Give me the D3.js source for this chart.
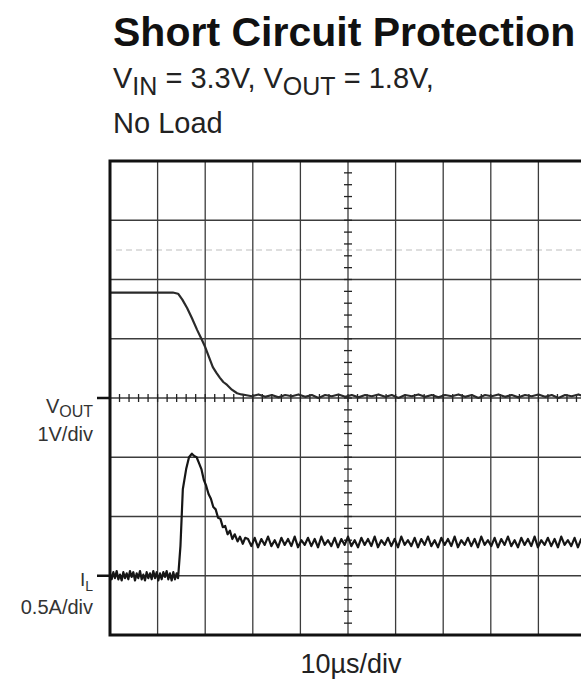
<!DOCTYPE html>
<html>
<head>
<meta charset="utf-8">
<script src="https://cdn.jsdelivr.net/npm/d3@7"></script>
<style>
  html, body { margin: 0; padding: 0; background: #fff; }
  svg { display: block; font-family: "Liberation Sans", Arial, Helvetica, sans-serif; }
</style>
</head>
<body>
<div id="container"></div>
<script>
// scope settings: 10 time divisions, 8 vertical divisions
const timeDivs = [0, 10, 20, 30, 40, 50, 60, 70, 80, 90, 100];   // µs
const voltDivs = [-4, -3, -2, -1, 0, 1, 2, 3, 4];                 // V (1V/div)
const ampRange = [-0.5, 3.5];                                     // A (0.5A/div)

// V_OUT trace [µs, V]
const voutTrace = [
  [0, 1.78], [13.2, 1.78], [14.3, 1.76], [15.2, 1.66], [16.2, 1.52], [17.2, 1.35],
  [18.3, 1.15], [19.2, 1.0], [20.0, 0.86], [20.8, 0.69], [21.6, 0.52], [22.4, 0.42],
  [23.1, 0.34], [23.8, 0.27], [24.6, 0.22], [25.6, 0.14], [26.7, 0.08], [27.6, 0.06],
  [28.4, 0.05], [29.8, 0.03], [31.2, 0.06], [32.6, 0.02], [34.0, 0.05], [35.4, 0.01],
  [36.8, 0.05], [38.2, 0.03], [39.6, 0.06], [41.0, 0.02], [42.4, 0.05], [43.8, 0.00],
  [45.2, 0.05], [46.6, 0.03], [48.0, 0.06], [49.4, 0.02], [50.8, 0.05], [52.2, 0.01],
  [53.6, 0.05], [55.0, 0.03], [56.4, 0.06], [57.8, 0.02], [59.2, 0.05], [60.6, 0.00],
  [62.0, 0.05], [63.4, 0.03], [64.8, 0.06], [66.2, 0.02], [67.6, 0.05], [69.0, 0.01],
  [70.4, 0.05], [71.8, 0.03], [73.2, 0.06], [74.6, 0.02], [76.0, 0.05], [77.4, 0.00],
  [78.8, 0.05], [80.2, 0.03], [81.6, 0.06], [83.0, 0.02], [84.4, 0.05], [85.8, 0.01],
  [87.2, 0.05], [88.6, 0.03], [90.0, 0.06], [91.4, 0.02], [92.8, 0.05], [94.2, 0.00],
  [95.6, 0.05], [97.0, 0.03], [98.4, 0.06], [99.8, 0.02]
];

// inductor current before the short [µs, A]
const ilBefore = [
  [0, 0.02], [0.35, -0.03], [0.7, 0.03], [1.05, -0.02], [1.4, 0.04], [1.75, -0.03],
  [2.1, 0.01], [2.45, -0.04], [2.8, 0.03], [3.15, -0.02], [3.5, 0.02], [3.85, -0.03],
  [4.2, 0.04], [4.55, -0.01], [4.9, 0.03], [5.25, -0.04], [5.6, 0.02], [5.95, -0.02],
  [6.3, 0.04], [6.65, -0.03], [7.0, 0.01], [7.35, -0.04], [7.7, 0.03], [8.05, -0.02],
  [8.4, 0.02], [8.75, -0.03], [9.1, 0.04], [9.45, -0.02], [9.8, 0.03], [10.15, -0.04],
  [10.5, 0.02], [10.85, -0.03], [11.2, 0.03], [11.55, -0.01], [11.9, 0.04], [12.25, -0.03],
  [12.6, 0.02], [12.95, -0.04], [13.3, 0.03], [13.65, -0.03], [14.0, 0.02], [14.3, -0.02]
];

// current spike when the output is shorted [µs, A]
const ilSpike = [
  [14.8, 0.25], [15.3, 0.73], [16.0, 0.9], [16.6, 1.0], [17.2, 1.03], [17.7, 1.01],
  [18.2, 1.0], [18.7, 0.95], [19.2, 0.9], [19.7, 0.81], [20.2, 0.76], [20.7, 0.69],
  [21.2, 0.65], [21.7, 0.58], [22.2, 0.56], [22.7, 0.49], [23.2, 0.48], [23.7, 0.41],
  [24.2, 0.42], [24.7, 0.35], [25.2, 0.38], [25.7, 0.31], [26.2, 0.35], [26.8, 0.29],
  [27.3, 0.33], [27.9, 0.27], [28.4, 0.32]
];

// current limit ripple [µs, A]
const ilLimit = [
  [29.0, 0.31], [29.7, 0.25], [30.4, 0.32], [31.1, 0.24], [31.8, 0.31], [32.5, 0.26],
  [33.2, 0.33], [33.9, 0.25], [34.6, 0.30], [35.3, 0.24], [36.0, 0.32], [36.7, 0.26],
  [37.4, 0.31], [38.1, 0.25], [38.8, 0.33], [39.5, 0.24], [40.2, 0.30], [40.9, 0.26],
  [41.6, 0.32], [42.3, 0.25], [43.0, 0.31], [43.7, 0.24], [44.4, 0.33], [45.1, 0.26],
  [45.8, 0.30], [46.5, 0.25], [47.2, 0.32], [47.9, 0.24], [48.6, 0.31], [49.3, 0.26],
  [50.0, 0.33], [50.7, 0.25], [51.4, 0.30], [52.1, 0.24], [52.8, 0.32], [53.5, 0.26],
  [54.2, 0.31], [54.9, 0.25], [55.6, 0.33], [56.3, 0.24], [57.0, 0.30], [57.7, 0.26],
  [58.4, 0.32], [59.1, 0.25], [59.8, 0.31], [60.5, 0.24], [61.2, 0.33], [61.9, 0.26],
  [62.6, 0.30], [63.3, 0.25], [64.0, 0.32], [64.7, 0.24], [65.4, 0.31], [66.1, 0.26],
  [66.8, 0.33], [67.5, 0.25], [68.2, 0.30], [68.9, 0.24], [69.6, 0.32], [70.3, 0.26],
  [71.0, 0.31], [71.7, 0.25], [72.4, 0.33], [73.1, 0.24], [73.8, 0.30], [74.5, 0.26],
  [75.2, 0.32], [75.9, 0.25], [76.6, 0.31], [77.3, 0.24], [78.0, 0.33], [78.7, 0.26],
  [79.4, 0.30], [80.1, 0.25], [80.8, 0.32], [81.5, 0.24], [82.2, 0.31], [82.9, 0.26],
  [83.6, 0.33], [84.3, 0.25], [85.0, 0.30], [85.7, 0.24], [86.4, 0.32], [87.1, 0.26],
  [87.8, 0.31], [88.5, 0.25], [89.2, 0.33], [89.9, 0.24], [90.6, 0.30], [91.3, 0.26],
  [92.0, 0.32], [92.7, 0.25], [93.4, 0.31], [94.1, 0.24], [94.8, 0.33], [95.5, 0.26],
  [96.2, 0.30], [96.9, 0.25], [97.6, 0.32], [98.3, 0.24], [99.0, 0.31], [99.7, 0.26]
];

const width = 581;
const height = 681;
const plotLeft = 110;
const plotRight = 586;   // right border falls just outside the picture
const plotTop = 161;
const plotBottom = 635;

const x = d3.scaleLinear().domain([0, 100]).range([plotLeft, plotRight]);
const yV = d3.scaleLinear().domain([-4, 4]).range([plotBottom, plotTop]);
const yI = d3.scaleLinear().domain(ampRange).range([plotBottom, plotTop]);

const svg = d3.create("svg")
    .attr("width", width)
    .attr("height", height)
    .attr("viewBox", [0, 0, width, height]);

svg.append("rect").attr("width", width).attr("height", height).attr("fill", "#fff");

svg.append("defs").append("clipPath")
    .attr("id", "plot-clip")
    .append("rect")
    .attr("x", plotLeft).attr("y", plotTop)
    .attr("width", plotRight - plotLeft).attr("height", plotBottom - plotTop);

// faint ghost row from the scan
svg.append("line")
    .attr("x1", plotLeft + 6).attr("x2", plotRight)
    .attr("y1", yV(2.5)).attr("y2", yV(2.5))
    .attr("stroke", "#d4d4d4")
    .attr("stroke-width", 1.5)
    .attr("stroke-dasharray", "6,4");

// grid
const grid = svg.append("g").attr("stroke", "#3c3c3c").attr("stroke-width", 1.3);
grid.selectAll("line.v")
    .data(timeDivs.slice(1, -1))
    .join("line")
    .attr("x1", d => x(d)).attr("x2", d => x(d))
    .attr("y1", plotTop).attr("y2", plotBottom);
grid.selectAll("line.h")
    .data(voltDivs.slice(1, -1))
    .join("line")
    .attr("x1", plotLeft).attr("x2", plotRight)
    .attr("y1", d => yV(d)).attr("y2", d => yV(d));

// minor ticks on the centre axes
const minor = svg.append("g").attr("stroke", "#222").attr("stroke-width", 1.3);
minor.selectAll("line.mx")
    .data(d3.range(0, 100.01, 2))
    .join("line")
    .attr("x1", d => x(d)).attr("x2", d => x(d))
    .attr("y1", yV(0) - 4).attr("y2", yV(0) + 4);
minor.selectAll("line.my")
    .data(d3.range(-4, 4.01, 0.2))
    .join("line")
    .attr("x1", x(50) - 4).attr("x2", x(50) + 4)
    .attr("y1", d => yV(d)).attr("y2", d => yV(d));

// traces
const traces = svg.append("g").attr("clip-path", "url(#plot-clip)").attr("fill", "none");
const lineV = d3.line().x(d => x(d[0])).y(d => yV(d[1]));
const lineI = d3.line().x(d => x(d[0])).y(d => yI(d[1]));

traces.append("path")
    .attr("d", lineV(voutTrace))
    .attr("stroke", "#2a2a2a")
    .attr("stroke-width", 2.2)
    .attr("stroke-linejoin", "round");

traces.append("path")
    .attr("d", lineI([...ilBefore, ...ilSpike, ...ilLimit]))
    .attr("stroke", "#161616")
    .attr("stroke-width", 2.2)
    .attr("stroke-linejoin", "round");

// frame
svg.append("rect")
    .attr("x", plotLeft).attr("y", plotTop)
    .attr("width", plotRight - plotLeft).attr("height", plotBottom - plotTop)
    .attr("fill", "none")
    .attr("stroke", "#111")
    .attr("stroke-width", 3);

// channel markers
const markers = svg.append("g").attr("stroke", "#111").attr("stroke-width", 2.5);
markers.append("line").attr("x1", 97).attr("x2", plotLeft).attr("y1", yV(0)).attr("y2", yV(0));
markers.append("line").attr("x1", 97).attr("x2", plotLeft).attr("y1", yI(0)).attr("y2", yI(0));

// titles
svg.append("text")
    .attr("x", 113).attr("y", 46)
    .attr("font-size", 41)
    .attr("font-weight", "bold")
    .attr("fill", "#111")
    .text("Short Circuit Protection");

const sub = svg.append("text")
    .attr("x", 113).attr("y", 88)
    .attr("font-size", 29)
    .attr("fill", "#222");
sub.append("tspan").text("V");
sub.append("tspan").attr("font-size", 25).attr("dy", 7).text("IN");
sub.append("tspan").attr("dy", -7).text(" = 3.3V, V");
sub.append("tspan").attr("font-size", 25).attr("dy", 7).text("OUT");
sub.append("tspan").attr("dy", -7).text(" = 1.8V,");

svg.append("text")
    .attr("x", 113).attr("y", 133)
    .attr("font-size", 29)
    .attr("fill", "#222")
    .text("No Load");

// channel labels
const vLab = svg.append("text")
    .attr("x", 93).attr("y", yV(0) + 15)
    .attr("text-anchor", "end")
    .attr("font-size", 20)
    .attr("fill", "#333");
vLab.append("tspan").text("V");
vLab.append("tspan").attr("font-size", 16).attr("dy", 4).text("OUT");

svg.append("text")
    .attr("x", 93).attr("y", yV(0) + 43)
    .attr("text-anchor", "end")
    .attr("font-size", 20)
    .attr("fill", "#333")
    .text("1V/div");

const iLab = svg.append("text")
    .attr("x", 93).attr("y", yI(0) + 10)
    .attr("text-anchor", "end")
    .attr("font-size", 19)
    .attr("fill", "#333");
iLab.append("tspan").text("I");
iLab.append("tspan").attr("font-size", 14).attr("dy", 5).text("L");

svg.append("text")
    .attr("x", 93).attr("y", yI(0) + 38)
    .attr("text-anchor", "end")
    .attr("font-size", 20)
    .attr("fill", "#333")
    .text("0.5A/div");

svg.append("text")
    .attr("x", x(50) + 3).attr("y", 673)
    .attr("text-anchor", "middle")
    .attr("font-size", 27)
    .attr("fill", "#222")
    .text("10\u00b5s/div");

d3.select("#container").append(() => svg.node());
</script>
</body>
</html>
